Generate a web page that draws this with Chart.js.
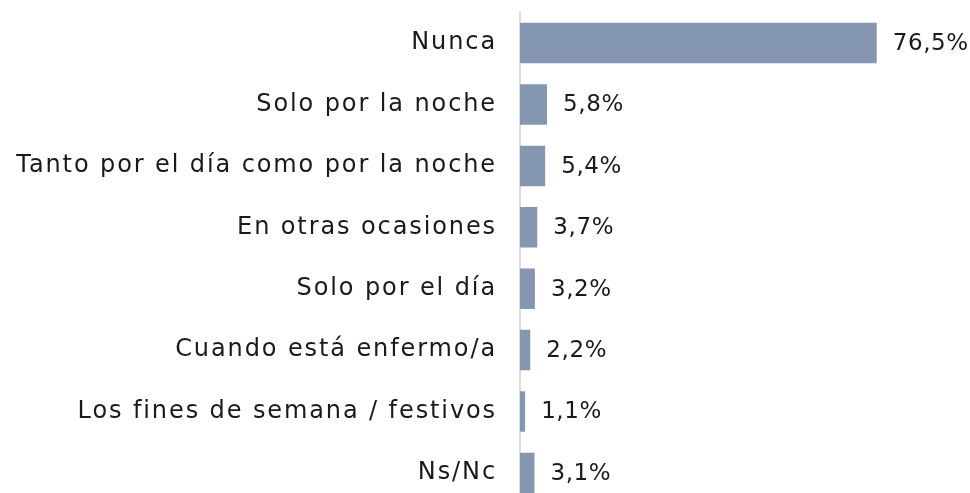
<!DOCTYPE html>
<html>
<head>
<meta charset="utf-8">
<script src="https://cdn.jsdelivr.net/npm/chart.js@4/dist/chart.umd.min.js"></script>
<style>
  html, body { margin: 0; padding: 0; background: #fff; overflow: hidden; }
  #wrap { width: 970px; height: 520px; position: relative; margin-top: -2px; }
</style>
</head>
<body>
<div id="wrap"><canvas id="c"></canvas></div>
<script>
const categories = [
  "Nunca",
  "Solo por la noche",
  "Tanto por el día como por la noche",
  "En otras ocasiones",
  "Solo por el día",
  "Cuando está enfermo/a",
  "Los fines de semana / festivos",
  "Ns/Nc"
];
const percentages = [76.5, 5.8, 5.4, 3.7, 3.2, 2.2, 1.1, 3.1];

const LABEL_FONT = { family: "'DejaVu Sans', sans-serif", size: 24 };
const VALUE_FONT = { family: "'DejaVu Sans', sans-serif", size: 23 };
const LABEL_SPACING = "1.9px";
const VALUE_SPACING = "0.6px";

const fmt = v => v.toFixed(1).replace(".", ",") + "%";

// Wider letter spacing for the category labels
const spacing = {
  id: "spacing",
  beforeDraw(chart) { chart.ctx.letterSpacing = LABEL_SPACING; }
};

// Writes each value to the right of its bar
const valueLabels = {
  id: "valueLabels",
  afterDatasetsDraw(chart) {
    const ctx = chart.ctx;
    const meta = chart.getDatasetMeta(0);
    ctx.save();
    ctx.letterSpacing = VALUE_SPACING;
    ctx.font = `${VALUE_FONT.size}px ${VALUE_FONT.family}`;
    ctx.fillStyle = "#1a1a1a";
    ctx.textAlign = "left";
    ctx.textBaseline = "middle";
    meta.data.forEach((bar, i) => {
      ctx.fillText(fmt(percentages[i]), bar.x + 16, bar.y + 1);
    });
    ctx.restore();
  }
};

new Chart(document.getElementById("c"), {
  type: "bar",
  data: {
    labels: categories,
    datasets: [{
      data: percentages,
      backgroundColor: "#8597b0",
      borderWidth: 0,
      categoryPercentage: 0.66,
      barPercentage: 1
    }]
  },
  options: {
    indexAxis: "y",
    responsive: true,
    maintainAspectRatio: false,
    animation: false,
    layout: { padding: 0 },
    plugins: { legend: { display: false }, tooltip: { enabled: false } },
    scales: {
      x: {
        min: 0,
        max: 96.5,
        display: false
      },
      y: {
        grid: {
          display: true,
          drawOnChartArea: false,
          drawTicks: true,
          tickLength: 23,
          color: "rgba(0,0,0,0)"
        },
        border: { display: true, color: "#dcdcdc", width: 2 },
        ticks: {
          color: "#1a1a1a",
          font: LABEL_FONT,
          padding: 0
        },
        afterFit(scale) { scale.width = 520; }
      }
    }
  },
  plugins: [spacing, valueLabels]
});
</script>
</body>
</html>
